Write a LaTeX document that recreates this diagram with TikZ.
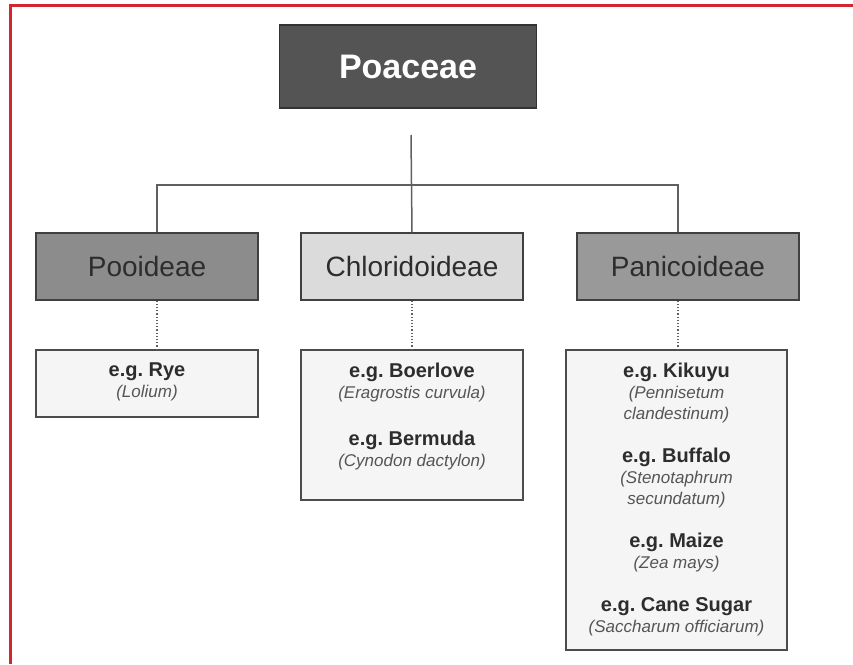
\documentclass[tikz,border=0pt]{standalone}
\usepackage{fontspec}
\setmainfont{Liberation Sans}
\usetikzlibrary{positioning}
\frenchspacing
\definecolor{framered}{RGB}{208,40,50}
\definecolor{linkgray}{RGB}{95,95,95}
\definecolor{txtdark}{RGB}{45,45,45}
\definecolor{txtsoft}{RGB}{85,85,85}
\newcommand{\egname}[1]{{\fontsize{20}{21}\selectfont\upshape\bfseries\color{txtdark}#1}}
\tikzset{
  rootbox/.style={draw=black!80,fill=black!67,text=white,line width=1.2pt,
    font=\fontsize{34}{40}\selectfont\bfseries,minimum width=257,minimum height=83},
  subbox/.style={draw=black!75,line width=1.2pt,text=txtdark,
    font=\fontsize{28}{32}\selectfont,minimum width=222,minimum height=67},
  exbox/.style={draw=black!70,fill=black!4,line width=1.1pt,minimum width=222},
  extext/.style={align=center,inner sep=0pt,text=txtsoft,
    font=\fontsize{17}{21}\selectfont\itshape},
  link/.style={draw=linkgray,line width=1.5pt},
  sublink/.style={draw=linkgray,line width=1.2pt,dotted}
}
\begin{document}
\begin{tikzpicture}[x=1pt,y=-1pt]
  \useasboundingbox (0,0) rectangle (853,664);
  \draw[framered,line width=3pt] (10,664) -- (10,5.5) -- (853,5.5);

  \node[rootbox] (root) at (408,66.5) {Poaceae};

  \node[subbox,fill=black!45] (pooi) at (147,266.5) {Pooideae};
  \node[subbox,fill=black!14] (chlo) at (412,266.5) {Chloridoideae};
  \node[subbox,fill=black!40] (pani) at (688,266.5) {Panicoideae};

  \coordinate (stem) at (411,135);
  \coordinate (bar) at (411,185);
  \draw[link] (stem) -- (chlo.north);
  \draw[link] ([xshift=10pt]pooi.north) |- (bar) -| ([xshift=-10pt]pani.north);

  \node[exbox,minimum height=67] (rye) at (147,383.5) {};
  \node[exbox,minimum height=150] (chloex) at (412,425) {};
  \node[exbox,minimum width=221,minimum height=300] (paniex) at (676.5,500) {};

  \draw[sublink] ([xshift=10pt]pooi.south) -- ([xshift=10pt]rye.north);
  \draw[sublink] (chlo.south) -- (chloex.north);
  \draw[sublink] ([xshift=-10pt]pani.south) -- ([xshift=1.5pt]paniex.north);

  \node[extext,anchor=north] (ryetxt) at ([yshift=-13pt]rye.north)
    {\egname{e.g. Rye}\\(Lolium)};
  \node[extext,anchor=north] (chlotxt) at ([yshift=-13pt]chloex.north)
    {\egname{e.g. Boerlove}\\(Eragrostis curvula)\\[26pt]
     \egname{e.g. Bermuda}\\(Cynodon dactylon)};
  \node[extext,anchor=north] (panitxt) at ([yshift=-13pt]paniex.north)
    {\egname{e.g. Kikuyu}\\(Pennisetum\\clandestinum)\\[22pt]
     \egname{e.g. Buffalo}\\(Stenotaphrum\\secundatum)\\[22pt]
     \egname{e.g. Maize}\\(Zea mays)\\[22pt]
     \egname{e.g. Cane Sugar}\\(Saccharum officiarum)};
\end{tikzpicture}
\end{document}
